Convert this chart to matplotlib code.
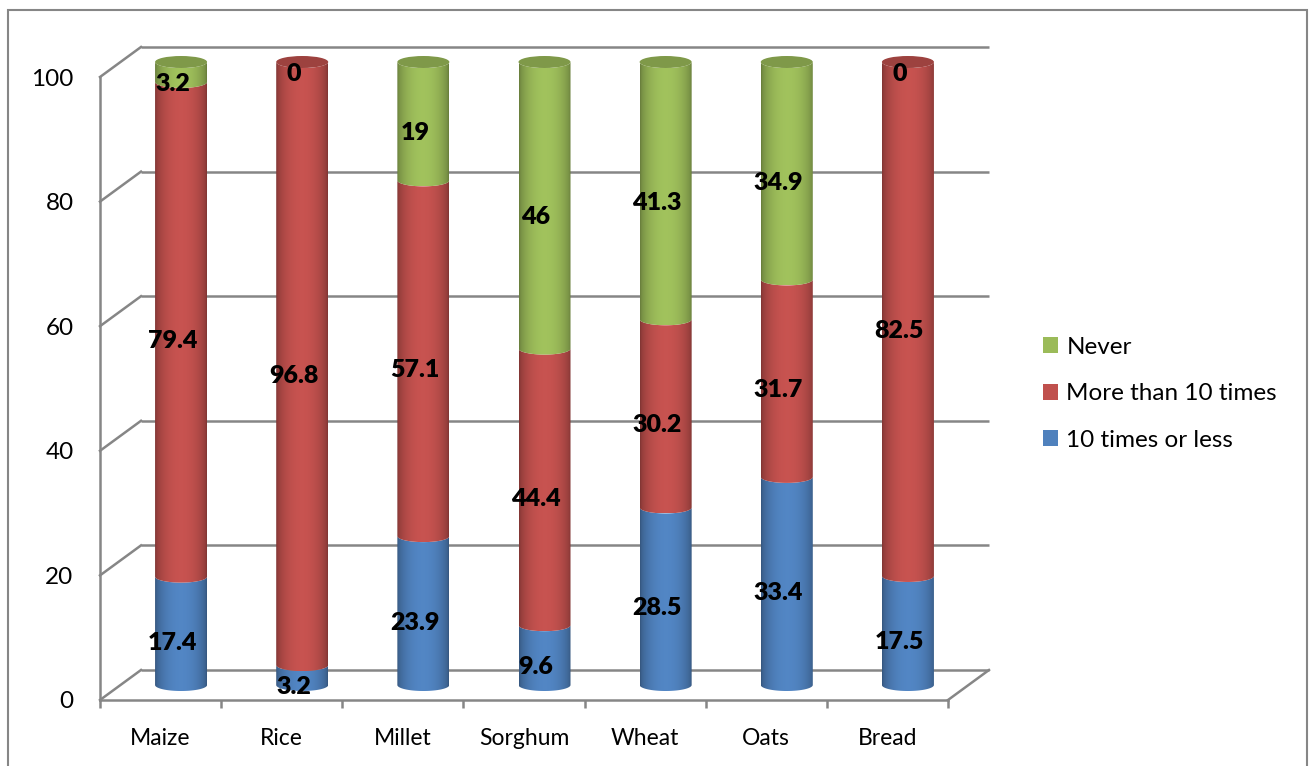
import numpy as np
import matplotlib
matplotlib.use('Agg')
import matplotlib.pyplot as plt
from matplotlib.patches import Patch, PathPatch, Ellipse, Rectangle
from matplotlib.path import Path
from matplotlib.lines import Line2D
from matplotlib.transforms import ScaledTranslation, IdentityTransform
from matplotlib.colors import to_rgb

categories = ['Maize', 'Rice', 'Millet', 'Sorghum', 'Wheat', 'Oats', 'Bread']
series_names = ['10 times or less', 'More than 10 times', 'Never']
less_10 = [17.4, 3.2, 23.9, 9.6, 28.5, 33.4, 17.5]
more_10 = [79.4, 96.8, 57.1, 44.4, 30.2, 31.7, 82.5]
never = [3.2, 0, 19, 46, 41.3, 34.9, 0]
colors = ['#4F81BD', '#C0504D', '#9BBB59']
yticks = [0, 20, 40, 60, 80, 100]

W, H, DPI = 1311, 766, 100
GRID = '#868686'
plt.rcParams['font.family'] = ['Lato', 'DejaVu Sans']

# front plane of the floor/walls in pixels, and how far back the walls go
FRONT = (100, 77, 948, 700)
DEPTH = (41, 30)
PAD = 5  # extra value range for the bar axes so cylinder ends are not clipped


def px_axes(fig, left, top, right, bottom):
	return fig.add_axes([left / W, 1 - bottom / H, (right - left) / W, (bottom - top) / H])


def shade_strip(color, n=90):
	t = np.linspace(0, 1, n)
	f = 0.66 + 0.38 * np.sin(np.pi * t) ** 0.55
	rgb = np.clip(np.array(to_rgb(color))[None, :] * f[:, None], 0, 1)
	return rgb[None, :, :]


def segment_path(cx, y0, y1, r, b, n=48):
	th = np.linspace(np.pi, 2 * np.pi, n)
	top = np.column_stack([cx + r * np.cos(th), y1 + b * np.sin(th)])
	bot = np.column_stack([cx + r * np.cos(th[::-1]), y0 + b * np.sin(th[::-1])])
	verts = np.vstack([top, bot, top[:1]])
	codes = [Path.MOVETO] + [Path.LINETO] * (len(verts) - 2) + [Path.CLOSEPOLY]
	return Path(verts, codes)


def darker(color, k):
	return tuple(c * k for c in to_rgb(color))


def main():
	fig = plt.figure(figsize=(W / DPI, H / DPI), dpi=DPI)
	n = len(categories)
	xlim = (-0.5, n - 0.5)

	# front axes: axis lines, ticks and tick labels
	left, top, right, bottom = FRONT
	ax = px_axes(fig, left, top, right, bottom)
	ax.set_xlim(*xlim)
	ax.set_ylim(0, 100)
	ax.patch.set_visible(False)
	for s in ['top', 'right']:
		ax.spines[s].set_visible(False)
	for s in ['left', 'bottom']:
		ax.spines[s].set_color(GRID)
		ax.spines[s].set_linewidth(1.8)
	ax.set_yticks(yticks)
	ax.set_xticks(range(n))
	ax.set_xticklabels(categories)
	ax.set_xticks(np.arange(-0.5, n, 1), minor=True)
	ax.tick_params(axis='y', length=0, pad=19, labelsize=17.5)
	ax.tick_params(axis='x', which='major', length=0, pad=20, labelsize=16.5)
	ax.tick_params(axis='x', which='minor', length=6, width=1.8, color=GRID, direction='out')

	dx, dy = DEPTH
	back = ax.transData + ScaledTranslation(dx / DPI, dy / DPI, fig.dpi_scale_trans)
	for y in yticks:
		ax.plot(xlim, [y, y], color=GRID, lw=1.8, transform=back, clip_on=False, solid_capstyle='butt')
	# side wall and floor edge diagonals
	diag = [(xlim[0], y) for y in yticks] + [(xlim[1], 0)]
	for x, y in diag:
		p = ax.transData.transform((x, y))
		fig.add_artist(Line2D([p[0], p[0] + dx], [p[1], p[1] + dy], color=GRID, lw=1.8,
			transform=IdentityTransform()))

	# bar axes sit half way into the floor
	ppu = (bottom - top) / 100
	bx = px_axes(fig, left + dx / 2, top - dy / 2 - PAD * ppu, right + dx / 2, bottom - dy / 2 + PAD * ppu)
	bx.axis('off')

	r = 26 / ((right - left) / n)
	b = 6 / ppu
	label_tr = bx.transData + ScaledTranslation(-8.5 / DPI, -12 / DPI, fig.dpi_scale_trans)
	stacks = [less_10, more_10, never]

	for i in range(n):
		base = 0
		top_color = None
		for vals, color in zip(stacks, colors):
			v = vals[i]
			if v > 0:
				path = segment_path(i, base, base + v, r, b)
				patch = PathPatch(path, facecolor='none', edgecolor='none')
				bx.add_patch(patch)
				im = bx.imshow(shade_strip(color), extent=[i - r, i + r, base - b, base + v + b],
					aspect='auto', interpolation='bilinear', zorder=2)
				im.set_clip_path(patch)
				top_color = color
			bx.text(i, base + v / 2, f'{v:g}', transform=label_tr, ha='center', va='center',
				fontsize=18, fontweight='heavy', color='black', zorder=5)
			base += v
		bx.add_patch(Ellipse((i, base), 2 * r, 2 * b, facecolor=darker(top_color, 0.82),
			edgecolor='none', zorder=3))

	bx.set_xlim(*xlim)
	bx.set_ylim(-PAD, 100 + PAD)

	handles = [Patch(facecolor=c, edgecolor='none') for c in colors][::-1]
	fig.legend(handles, series_names[::-1], loc='upper left', bbox_to_anchor=(1021 / W, 1 - 315 / H),
		frameon=False, fontsize=17.5, handlelength=0.62, handleheight=0.62, handletextpad=0.35,
		labelspacing=1.05)

	fig.add_artist(Rectangle((8 / W, -0.05), (1307 - 8) / W, 1.05 - 10 / H, transform=fig.transFigure,
		fill=False, edgecolor=GRID, lw=1.5))

	fig.savefig('out.png', dpi=DPI)


if __name__ == '__main__':
	main()
